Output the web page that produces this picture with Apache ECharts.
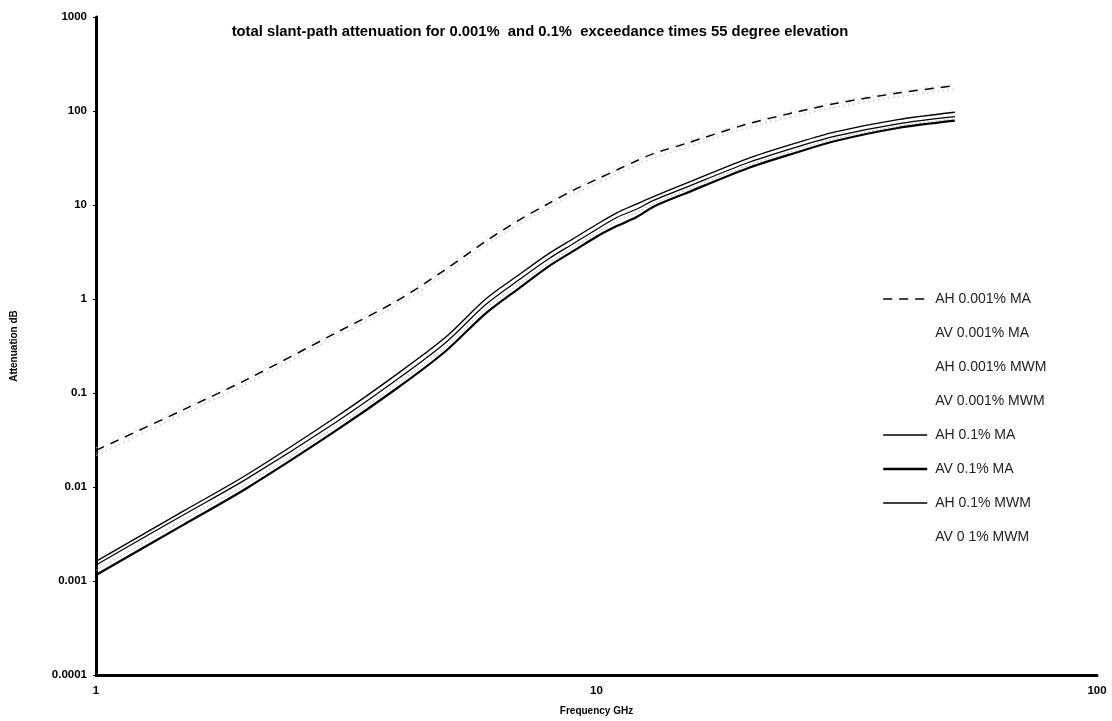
<!DOCTYPE html>
<html>
<head>
<meta charset="utf-8">
<script src="https://cdn.jsdelivr.net/npm/echarts@6/dist/echarts.min.js"></script>
<style>
html,body{margin:0;padding:0;background:#fff;}
#chart{width:1112px;height:721px;}
</style>
</head>
<body>
<div id="chart"></div>
<script>
// Frequency (GHz)
const freqs = [1, 1.5, 2, 3, 4, 5, 6, 7, 8, 9, 10, 11, 12, 13, 15, 20, 25, 30, 40, 52];

// 0.001% exceedance
const ah001MA  = [0.0245, 0.067, 0.139, 0.43, 0.96, 2.07, 4.1, 6.9, 10.3, 14.4, 18.7, 23.7, 29.4, 35.2, 44.7, 72.6, 97, 120, 155, 186];
const av001MA  = [0.0216, 0.060, 0.125, 0.39, 0.86, 1.85, 3.7, 6.2, 9.3, 13.0, 17.0, 21.5, 26.5, 31.8, 40.5, 66, 88, 109, 141, 170];
const ah001MWM = [0.026, 0.071, 0.148, 0.46, 1.02, 2.2, 4.35, 7.3, 10.9, 15.2, 19.8, 25, 31, 37, 47, 76, 101, 125, 161, 192];
const av001MWM = [0.0228, 0.063, 0.130, 0.41, 0.90, 1.95, 3.9, 6.5, 9.8, 13.7, 17.8, 22.5, 28, 33.5, 42.5, 69, 92, 114, 147, 177];

// 0.1% exceedance
const ah01MA   = [0.00162, 0.0056, 0.0135, 0.0545, 0.160, 0.394, 0.995, 1.81, 3.0, 4.4, 6.2, 8.3, 10.2, 12.3, 16.8, 31, 45.5, 60, 81, 97];
const av01MA   = [0.00116, 0.0040, 0.0097, 0.039, 0.113, 0.28, 0.70, 1.30, 2.2, 3.25, 4.6, 6.0, 7.4, 9.6, 13.2, 24.5, 36, 48, 66, 79];
const ah01MWM  = [0.00148, 0.0051, 0.0122, 0.048, 0.140, 0.345, 0.87, 1.6, 2.65, 3.9, 5.5, 7.4, 9.0, 11.2, 15.2, 28, 41, 54, 73, 87];
const av01MWM  = [0.00130, 0.0045, 0.0108, 0.043, 0.125, 0.31, 0.78, 1.43, 2.4, 3.55, 5.0, 6.8, 8.3, 10.3, 14.2, 26, 38.5, 51, 69, 83];

const xTicks = [1, 10, 100];
const yTicks = [0.0001, 0.001, 0.01, 0.1, 1, 10, 100, 1000];

const pair = arr => freqs.map((f, i) => [f, arr[i]]);

const FONT = '"Liberation Sans", Arial, Helvetica, sans-serif';

function mk(name, data, color, width, type, z) {
  return {
    name: name,
    type: 'line',
    data: pair(data),
    symbol: 'none',
    showSymbol: false,
    smooth: 0.3,
    z: z || 2,
    lineStyle: { color: color, width: width, type: type },
    itemStyle: { color: color }
  };
}

const chart = echarts.init(document.getElementById('chart'), null, { renderer: 'canvas' });

const hidden = { lineStyle: { opacity: 0 }, itemStyle: { opacity: 0 } };

chart.setOption({
  animation: false,
  backgroundColor: '#ffffff',
  title: {
    text: 'total slant-path attenuation for 0.001%  and 0.1%  exceedance times 55 degree elevation',
    left: 535,
    textAlign: 'center',
    top: 19,
    textStyle: { fontFamily: FONT, fontWeight: 'bold', fontSize: 14.8, color: '#000' }
  },
  legend: {
    orient: 'vertical',
    left: 882,
    top: 292,
    padding: 0,
    itemWidth: 44,
    itemHeight: 14,
    itemGap: 20,
    itemStyle: { opacity: 0 },
    textStyle: { fontFamily: FONT, fontSize: 14, color: '#222', padding: [0, 0, 0, 3] },
    data: [
      { name: 'AH 0.001% MA', lineStyle: { width: 1.6 } },
      Object.assign({ name: 'AV 0.001% MA' }, hidden),
      Object.assign({ name: 'AH 0.001% MWM' }, hidden),
      Object.assign({ name: 'AV 0.001% MWM' }, hidden),
      { name: 'AH 0.1% MA', lineStyle: { width: 1.5 } },
      { name: 'AV 0.1% MA', lineStyle: { width: 2.4 } },
      { name: 'AH 0.1% MWM', lineStyle: { width: 1.6 } },
      Object.assign({ name: 'AV 0 1% MWM' }, hidden)
    ]
  },
  grid: { left: 96, right: 15, top: 17, bottom: 44, containLabel: false },
  xAxis: {
    type: 'log',
    logBase: 10,
    min: 1,
    max: 100,
    name: 'Frequency GHz',
    nameLocation: 'middle',
    nameGap: 31,
    nameTextStyle: { fontFamily: FONT, fontWeight: 'bold', fontSize: 10, color: '#000' },
    axisLine: { show: true, lineStyle: { color: '#000', width: 3 } },
    axisTick: { show: false },
    minorTick: { show: false },
    splitLine: { show: false },
    axisLabel: {
      fontFamily: FONT, fontWeight: 'bold', fontSize: 11.5, color: '#000', margin: 10,
      formatter: v => (xTicks.indexOf(v) >= 0 ? String(v) : '')
    }
  },
  yAxis: {
    type: 'log',
    logBase: 10,
    min: 0.0001,
    max: 1000,
    name: 'Attenuation dB',
    nameLocation: 'middle',
    nameGap: 77,
    nameRotate: 90,
    nameTextStyle: { fontFamily: FONT, fontWeight: 'bold', fontSize: 10, color: '#000' },
    axisLine: { show: true, lineStyle: { color: '#000', width: 3 } },
    axisTick: { show: true, length: 3, lineStyle: { color: '#000', width: 1 } },
    splitLine: { show: false },
    axisLabel: {
      fontFamily: FONT, fontWeight: 'bold', fontSize: 11.5, color: '#000', margin: 9,
      formatter: v => {
        const i = yTicks.findIndex(t => Math.abs(Math.log10(t) - Math.log10(v)) < 1e-6);
        return i >= 0 ? String(yTicks[i]) : '';
      }
    }
  },
  series: [
    mk('AH 0.001% MA', ah001MA, '#000', 1.5, [9, 7], 5),
    mk('AV 0.001% MA', av001MA, '#c8c8c8', 1, [2, 3], 1),
    mk('AH 0.001% MWM', ah001MWM, '#d6d6d6', 1, [2, 4], 1),
    mk('AV 0.001% MWM', av001MWM, '#d0d0d0', 1, [1, 4], 1),
    mk('AH 0.1% MA', ah01MA, '#000', 1.4, 'solid', 4),
    mk('AV 0.1% MA', av01MA, '#000', 2.2, 'solid', 4),
    mk('AH 0.1% MWM', ah01MWM, '#000', 1.2, 'solid', 3),
    mk('AV 0 1% MWM', av01MWM, '#b8b8b8', 1, [2, 2], 2)
  ]
});
</script>
</body>
</html>
